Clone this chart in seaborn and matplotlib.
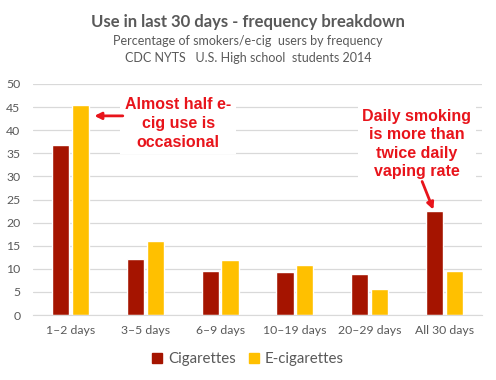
import numpy as np
import pandas as pd
import seaborn as sns
import matplotlib.pyplot as plt
from matplotlib.lines import Line2D

categories = ['1\u20132 days', '3\u20135 days', '6\u20139 days',
              '10\u201319 days', '20\u201329 days', 'All 30 days']
cigarettes = [36.9, 12.2, 9.6, 9.4, 8.9, 22.6]
e_cigarettes = [45.4, 16.1, 12.0, 10.9, 5.7, 9.6]
series = ['Cigarettes', 'E-cigarettes']
colors = ['#A51400', '#FFC000']

df = pd.DataFrame({
    'days': categories * 2,
    'pct': cigarettes + e_cigarettes,
    'product': [series[0]] * len(categories) + [series[1]] * len(categories),
})

sns.set_style('white')
plt.rcParams['font.family'] = ['Lato', 'DejaVu Sans']

fig = plt.figure(figsize=(4.96, 3.80), dpi=100)
ax = fig.add_axes([33 / 496, 1 - 315 / 380, 449 / 496, 231 / 380])

sns.barplot(data=df, x='days', y='pct', hue='product', palette=colors,
            width=0.53, gap=0.13, ax=ax, legend=False, saturation=1)

ax.set_ylim(0, 50)
ax.set_yticks(range(0, 51, 5))
ax.set_xlim(-0.5, 5.5)
ax.yaxis.grid(True, color='#d9d9d9', lw=0.9)
ax.set_axisbelow(True)
for s in ['top', 'right', 'left']:
    ax.spines[s].set_visible(False)
ax.spines['bottom'].set_color('#d9d9d9')
ax.set_xlabel('')
ax.set_ylabel('')
ax.tick_params(axis='both', length=0, labelsize=8.8, colors='#595959')
ax.tick_params(axis='x', pad=7)
ax.tick_params(axis='y', pad=9)

gray = '#595959'
fig.text(0.5, 1 - 22 / 380, 'Use in last 30 days - frequency breakdown',
         ha='center', va='center', fontsize=12, fontweight='bold', color=gray)
fig.text(0.5, 1 - 41 / 380, 'Percentage of smokers/e-cig  users by frequency',
         ha='center', va='center', fontsize=9, color=gray)
fig.text(0.5, 1 - 58 / 380, 'CDC NYTS   U.S. High school  students 2014',
         ha='center', va='center', fontsize=9, color=gray)

red = '#E8141B'
ann_font = ['Liberation Sans', 'DejaVu Sans']
arrow = dict(arrowstyle='-|>', color=red, lw=2, shrinkA=0, shrinkB=0,
             mutation_scale=10)
box = dict(boxstyle='square,pad=0.3', facecolor='white', edgecolor='none')

ax.text(1.44, 41.5, 'Almost half e-\ncig use is\noccasional', ha='center',
        va='center', fontsize=11.5, fontweight='bold', color=red,
        family=ann_font, linespacing=1.32, bbox=box)
ax.annotate('', xy=(0.32, 43.1), xytext=(0.70, 43.1), arrowprops=arrow)

ax.text(4.63, 37.0, 'Daily smoking\nis more than\ntwice daily\nvaping rate',
        ha='center', va='center', fontsize=11.5, fontweight='bold', color=red,
        family=ann_font, linespacing=1.3, bbox=box)
ax.annotate('', xy=(4.85, 22.8), xytext=(4.70, 28.9), arrowprops=arrow)

handles = [Line2D([], [], marker='s', ls='', color=c, markersize=7) for c in colors]
fig.legend(handles, series, loc='center', bbox_to_anchor=(0.5, 1 - 359 / 380),
           ncol=2, frameon=False, fontsize=10.8, handlelength=0.7,
           handletextpad=0.35, columnspacing=0.9, labelcolor=gray)

fig.savefig('out.png', dpi=100)
